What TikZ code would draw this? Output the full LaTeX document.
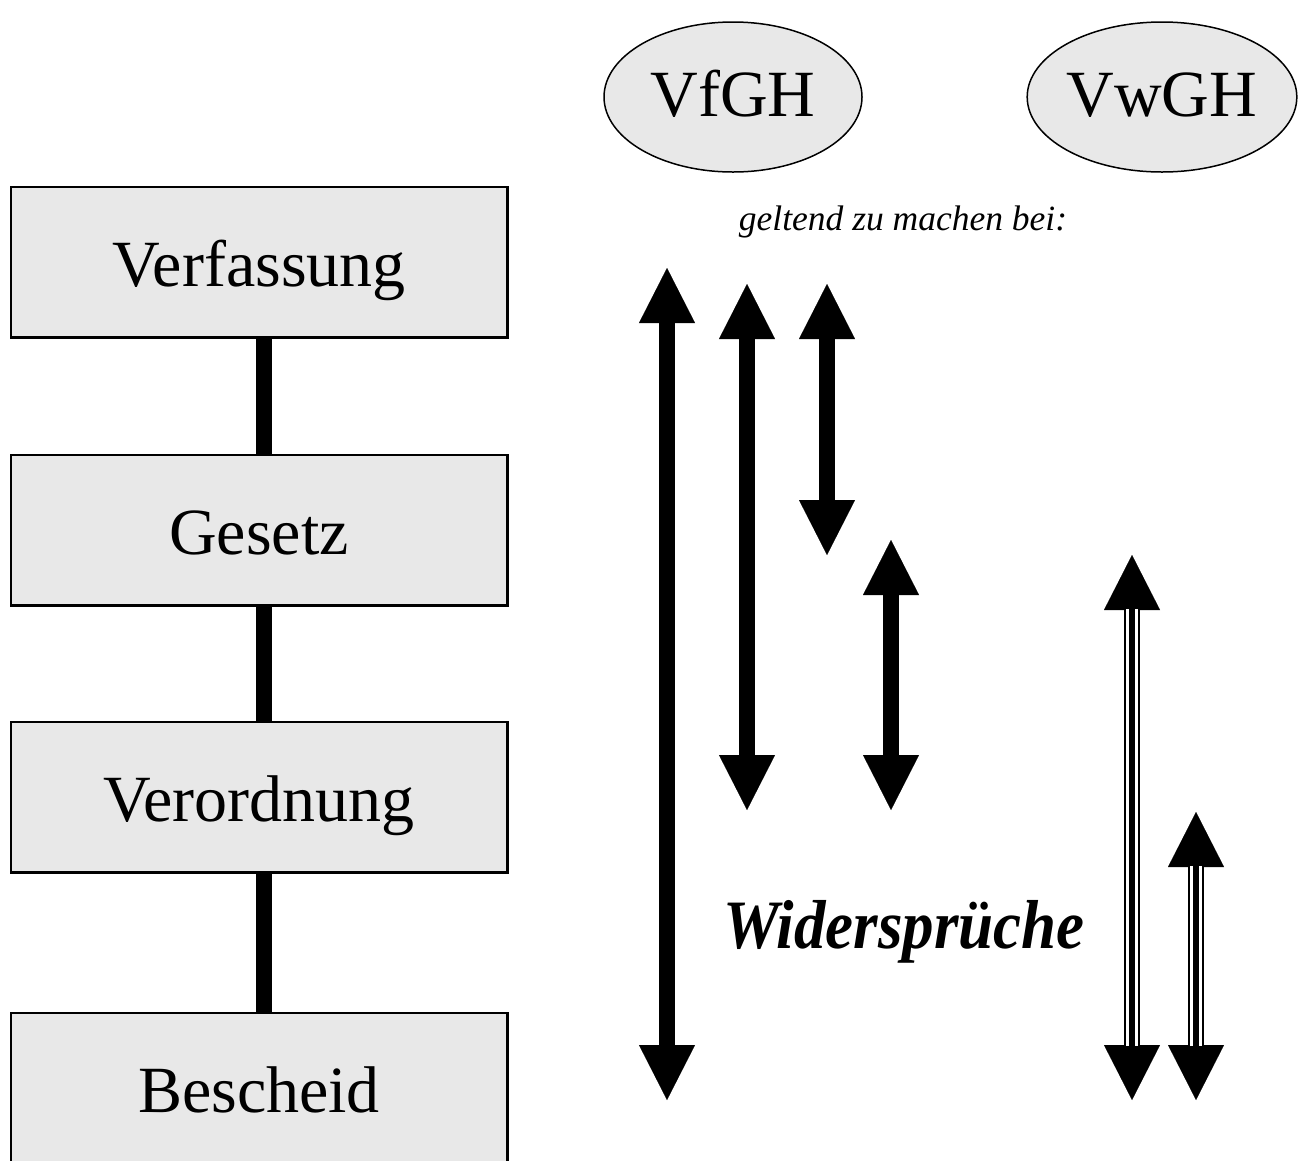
\documentclass[tikz,border=0pt]{standalone}
\usepackage{fontspec}
\setmainfont{Liberation Serif}
\usetikzlibrary{arrows.meta,shapes.geometric}
\definecolor{boxgray}{HTML}{E8E8E8}
\tikzset{
  level/.style={draw=black, line width=1.5pt, fill=boxgray, minimum width=496pt, minimum height=150pt, inner sep=0pt, text height=48pt, text depth=0pt, font=\fontsize{66}{78}\selectfont},
  court/.style={draw=black, line width=1.5pt, fill=boxgray, ellipse, minimum width=258pt, minimum height=150pt, inner sep=0pt, text height=38pt, text depth=0pt, font=\fontsize{66}{78}\selectfont},
  link/.style={line width=16pt, black},
  bigtip/.tip={Triangle[length=55pt, width=56pt, line width=0.1pt]},
  fatarrow/.style={line width=16pt, black, bigtip-bigtip},
  tripleinner/.style={line width=12pt, white, shorten <=54pt, shorten >=54pt},
  triplecore/.style={line width=6pt, black, shorten <=54pt, shorten >=54pt},
}
\begin{document}
\begin{tikzpicture}[x=1pt,y=-1pt]
\clip (0,0) rectangle (1300,1160);
\useasboundingbox (0,0) rectangle (1300,1160);
\fill[white] (0,0) rectangle (1300,1160);

% hierarchy boxes
\node[level] (v) at (259,262) {Verfassung};
\node[level] (g) at (259,530) {Gesetz};
\node[level] (vo) at (259,797) {Verordnung};
\node[level] (b) at (259,1088) {Bescheid};
\draw[link] ([xshift=5pt]v.south) -- ([xshift=5pt]g.north);
\draw[link] ([xshift=5pt]g.south) -- ([xshift=5pt]vo.north);
\draw[link] ([xshift=5pt]vo.south) -- ([xshift=5pt]b.north);
% redraw box outlines over connectors' ends
\draw[line width=1.5pt] (v.south west) rectangle (v.north east);
\draw[line width=1.5pt] (g.south west) rectangle (g.north east);
\draw[line width=1.5pt] (vo.south west) rectangle (vo.north east);
\draw[line width=1.5pt] (b.south west) rectangle (b.north east);

% courts
\node[court] (vfgh) at (733,97) {VfGH};
\node[court] (vwgh) at (1162,97) {VwGH};

\node[font=\fontsize{35.5}{40}\selectfont\itshape, anchor=base] (gel) at (903,230) {geltend zu machen bei:};
\node[font=\fontsize{63}{72}\selectfont\bfseries\itshape, anchor=base, inner sep=0pt] (wid) at (904,948) {\scalebox{1}[1.1]{Widersprüche}};

% arrow end points
\coordinate (a1t) at (667,268);  \coordinate (a1b) at (667,1100);
\coordinate (a2t) at (747,284);  \coordinate (a2b) at (747,810);
\coordinate (a3t) at (827,284);  \coordinate (a3b) at (827,555);
\coordinate (a4t) at (891,540);  \coordinate (a4b) at (891,810);
\coordinate (a5t) at (1132,555); \coordinate (a5b) at (1132,1100);
\coordinate (a6t) at (1196,812); \coordinate (a6b) at (1196,1100);

\draw[fatarrow] (a1b) -- (a1t);
\draw[fatarrow] (a2b) -- (a2t);
\draw[fatarrow] (a3b) -- (a3t);
\draw[fatarrow] (a4b) -- (a4t);

\draw[fatarrow] (a5b) -- (a5t);
\draw[tripleinner] (a5b) -- (a5t);
\draw[triplecore] (a5b) -- (a5t);
\draw[fatarrow] (a6b) -- (a6t);
\draw[tripleinner] (a6b) -- (a6t);
\draw[triplecore] (a6b) -- (a6t);
\end{tikzpicture}
\end{document}
